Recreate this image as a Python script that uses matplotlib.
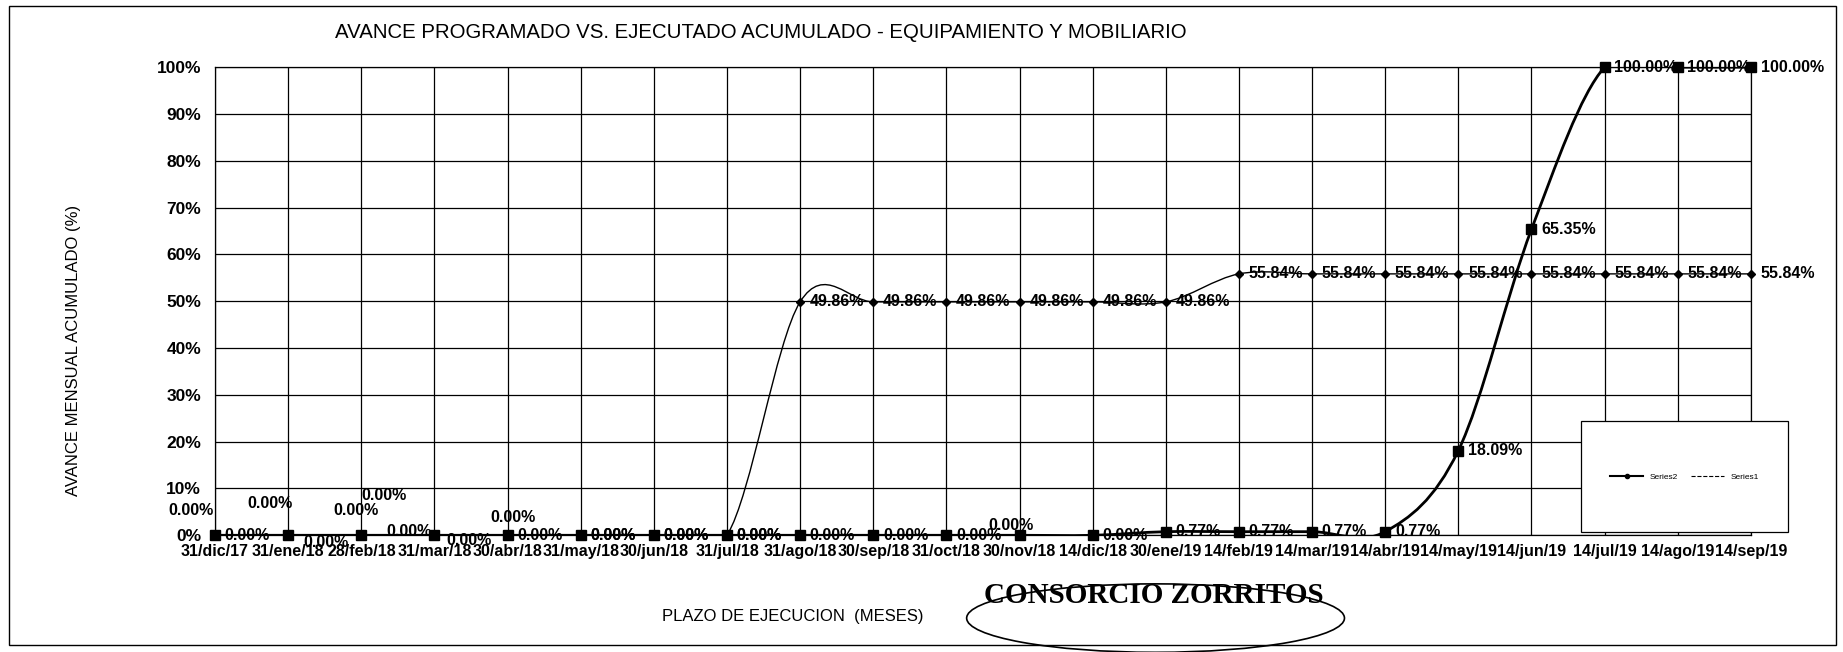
import numpy as np
import matplotlib
matplotlib.use('Agg')
from matplotlib import pyplot as pl
from matplotlib.path import Path
from matplotlib.patches import PathPatch, Rectangle, Ellipse
from matplotlib.lines import Line2D

# Fechas de corte (eje de categorias)
fechas = ['31/dic/17', '31/ene/18', '28/feb/18', '31/mar/18', '30/abr/18',
          '31/may/18', '30/jun/18', '31/jul/18', '31/ago/18', '30/sep/18',
          '31/oct/18', '30/nov/18', '14/dic/18', '30/ene/19', '14/feb/19',
          '14/mar/19', '14/abr/19', '14/may/19', '14/jun/19', '14/jul/19',
          '14/ago/19', '14/sep/19']

# Avance acumulado (%) de cada serie
serie1 = [0.00, 0.00, 0.00, 0.00, 0.00, 0.00, 0.00, 0.00, 49.86, 49.86,
          49.86, 49.86, 49.86, 49.86, 55.84, 55.84, 55.84, 55.84, 55.84,
          55.84, 55.84, 55.84]
serie2 = [0.00, 0.00, 0.00, 0.00, 0.00, 0.00, 0.00, 0.00, 0.00, 0.00,
          0.00, 0.00, 0.00, 0.77, 0.77, 0.77, 0.77, 18.09, 65.35, 100.00,
          100.00, 100.00]

# Etiquetas desplazadas a mano (indice: desplazamiento en puntos)
mover1 = {0: (-17, 18), 1: (-13, 23), 2: (-4, 18), 3: (-36, 29), 4: (4, 13)}
mover2 = {1: (27, -5), 2: (34, 2.5), 3: (25, -3.5), 11: (-6, 7)}

pl.rcParams['font.family'] = ['Liberation Sans', 'DejaVu Sans']


def curva_suave(x, y, t=1/6.):
    '''
    Trayectoria Bezier suavizada que pasa por todos los puntos.
    '''
    x = np.asarray(x, float)
    y = np.asarray(y, float)
    n = len(x)
    verts = [(x[0], y[0])]
    codes = [Path.MOVETO]
    for i in range(n-1):
        a = max(i-1, 0)
        b = min(i+2, n-1)
        c1 = (x[i]+(x[i+1]-x[a])*t, y[i]+(y[i+1]-y[a])*t)
        c2 = (x[i+1]-(x[b]-x[i])*t, y[i+1]-(y[b]-y[i])*t)
        verts += [c1, c2, (x[i+1], y[i+1])]
        codes += [Path.CURVE4]*3
    return Path(verts, codes)


def etiquetas(ax, x, y, mover):
    for i, (xi, yi) in enumerate(zip(x, y)):
        if i in mover:
            dx, dy = mover[i]
            ha = 'center'
        else:
            dx, dy = 7, 0
            ha = 'left'
        ax.annotate('%.2f%%' % yi, (xi, yi), xytext=(dx, dy),
                    textcoords='offset points', ha=ha, va='center',
                    fontsize=11.5, fontweight='bold', zorder=2,
                    annotation_clip=False)


fig = pl.figure(figsize=(18.43, 6.52), dpi=100)
ax = fig.add_axes([0.1167, 0.179, 0.8333, 0.718])

x = np.arange(len(fechas))

ax.add_patch(PathPatch(curva_suave(x, serie1), fill=False, color='black',
                       lw=1.0, zorder=3))
ax.add_patch(PathPatch(curva_suave(x, serie2), fill=False, color='black',
                       lw=2.0, zorder=4))
ax.plot(x, serie1, linestyle='none', marker='D', markersize=4,
        color='black', zorder=5, clip_on=False)
ax.plot(x, serie2, linestyle='none', marker='s', markersize=7,
        color='black', zorder=6, clip_on=False)

etiquetas(ax, x, serie1, mover1)
etiquetas(ax, x, serie2, mover2)

ax.set_xlim(0, len(fechas)-1)
ax.set_ylim(0, 100)
ax.set_xticks(x)
ax.set_xticklabels(fechas, fontsize=11.5, fontweight='bold')
ax.set_yticks(np.arange(0, 101, 10))
ax.set_yticklabels(['%d%%' % v for v in range(0, 101, 10)], fontsize=12.5,
                   fontweight='bold')
ax.tick_params(axis='both', length=0)
ax.tick_params(axis='x', pad=6)
ax.tick_params(axis='y', pad=10)
ax.grid(True, color='black', lw=0.9)
ax.set_axisbelow(True)
for s in ax.spines.values():
    s.set_linewidth(0.9)

fig.text(0.413, 0.950, 'AVANCE PROGRAMADO VS. EJECUTADO ACUMULADO - '
         'EQUIPAMIENTO Y MOBILIARIO', ha='center', va='center',
         fontsize=14.7)
fig.text(0.040, 0.463, 'AVANCE MENSUAL ACUMULADO (%)', rotation=90,
         ha='center', va='center', fontsize=12)
fig.text(0.430, 0.055, 'PLAZO DE EJECUCION  (MESES)', ha='center',
         va='center', fontsize=12)

# Sello de la firma
fig.text(0.626, 0.087, 'CONSORCIO ZORRITOS', ha='center', va='center',
         fontsize=21, fontweight='bold', family='Liberation Serif')
fig.patches.append(Ellipse((0.627, 0.052), 0.205, 0.105,
                           transform=fig.transFigure, fill=False,
                           edgecolor='black', lw=1.2))

# Recuadro de la leyenda
caja = Rectangle((0.858, 0.184), 0.112, 0.170, transform=fig.transFigure,
                 facecolor='white', edgecolor='black', lw=0.9, zorder=2)
fig.patches.append(caja)
h2 = Line2D([], [], color='black', lw=1.5, marker='o', markersize=3)
h1 = Line2D([], [], color='black', lw=0.8, linestyle='--')
fig.legend([h2, h1], ['Series2', 'Series1'], ncol=2, loc='center',
           bbox_to_anchor=(0.914, 0.269), frameon=False, fontsize=6,
           handlelength=4, columnspacing=1.5)

# Marco exterior
marco = Rectangle((0.005, 0.011), 0.991, 0.980, transform=fig.transFigure,
                  fill=False, edgecolor='black', lw=1.0)
fig.patches.append(marco)

fig.savefig('out.png', dpi=100, facecolor='white')
